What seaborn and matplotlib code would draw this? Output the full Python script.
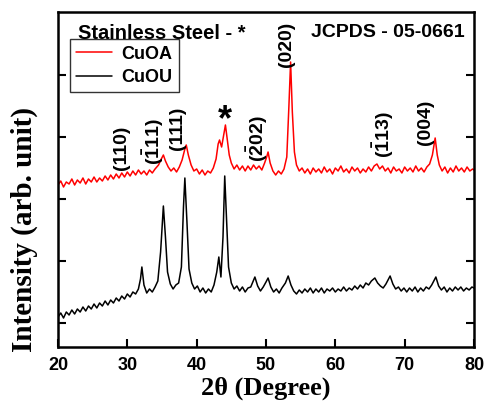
import numpy as np
import seaborn as sns
import matplotlib
matplotlib.use("Agg")
import matplotlib.pyplot as plt

# CuOA (annealed) pattern
cuoa_2theta = [20.0, 20.4, 20.8, 21.2, 21.6, 22.0, 22.4, 22.8, 23.2, 23.6, 24.0, 24.4, 24.8, 25.2,
               25.6, 26.0, 26.4, 26.8, 27.2, 27.6, 28.0, 28.4, 28.8, 29.2, 29.6, 30.0, 30.4, 30.8,
               31.2, 31.6, 32.0, 32.4, 32.8, 33.2, 33.6, 34.0, 34.5, 34.9, 35.2, 35.5, 35.9, 36.3,
               36.7, 37.1, 37.5, 37.9, 38.3, 38.5, 38.8, 39.2, 39.6, 40.0, 40.4, 40.8, 41.2, 41.6,
               42.0, 42.4, 42.8, 43.1, 43.3, 43.6, 43.9, 44.15, 44.4, 44.7, 45.0, 45.4, 45.8, 46.2,
               46.6, 47.0, 47.4, 47.8, 48.2, 48.6, 49.0, 49.4, 49.8, 50.1, 50.3, 50.6, 51.0, 51.4,
               51.8, 52.2, 52.6, 53.0, 53.3, 53.55, 53.8, 54.1, 54.4, 54.8, 55.2, 55.6, 56.0, 56.4,
               56.8, 57.2, 57.6, 58.0, 58.4, 58.8, 59.2, 59.6, 60.0, 60.4, 60.8, 61.2, 61.6, 62.0,
               62.4, 62.8, 63.2, 63.6, 64.0, 64.4, 64.8, 65.2, 65.6, 66.0, 66.4, 66.8, 67.2, 67.6,
               68.0, 68.4, 68.8, 69.2, 69.6, 70.0, 70.4, 70.8, 71.2, 71.6, 72.0, 72.4, 72.8, 73.2,
               73.6, 74.0, 74.4, 74.7, 75.0, 75.4, 75.8, 76.2, 76.6, 77.0, 77.4, 77.8, 78.2, 78.6,
               79.0, 79.4, 79.8, 80.0]
cuoa_counts = [162, 166, 160, 165, 163, 168, 162, 167, 164, 169, 163, 168, 165, 170,
               165, 169, 166, 171, 167, 172, 168, 173, 169, 174, 170, 175, 171, 176,
               172, 177, 173, 176, 172, 177, 174, 178, 182, 188, 192, 186, 180, 176,
               179, 175, 180, 187, 198, 202, 192, 182, 176, 178, 173, 177, 172, 176,
               174, 179, 188, 203, 207, 200, 212, 222, 208, 192, 184, 178, 182, 177,
               181, 176, 181, 177, 182, 178, 181, 177, 184, 190, 195, 184, 176, 172,
               176, 173, 178, 190, 240, 285, 235, 195, 182, 176, 179, 174, 178, 173,
               179, 175, 178, 174, 180, 175, 178, 173, 179, 176, 181, 175, 178, 174,
               180, 176, 179, 174, 178, 175, 180, 176, 181, 183, 178, 181, 176, 179,
               174, 180, 176, 178, 174, 180, 176, 179, 175, 181, 176, 179, 175, 180,
               183, 192, 209, 192, 182, 176, 180, 174, 179, 175, 181, 176, 179, 175,
               180, 176, 178, 177]

# CuOU (unannealed) pattern
cuou_2theta = [20.0, 20.4, 20.8, 21.2, 21.6, 22.0, 22.4, 22.8, 23.2, 23.6, 24.0, 24.4, 24.8, 25.2,
               25.6, 26.0, 26.4, 26.8, 27.2, 27.6, 28.0, 28.4, 28.8, 29.2, 29.6, 30.0, 30.4, 30.8,
               31.2, 31.6, 31.9, 32.1, 32.4, 32.8, 33.2, 33.6, 34.0, 34.4, 34.8, 35.2, 35.5, 35.8,
               36.2, 36.6, 37.0, 37.4, 37.8, 38.1, 38.3, 38.6, 38.9, 39.3, 39.7, 40.1, 40.5, 40.9,
               41.3, 41.7, 42.1, 42.5, 42.9, 43.2, 43.5, 43.8, 44.05, 44.3, 44.6, 45.0, 45.4, 45.8,
               46.2, 46.6, 47.0, 47.4, 47.8, 48.4, 48.8, 49.2, 49.6, 50.0, 50.3, 50.7, 51.1, 51.5,
               51.9, 52.3, 52.8, 53.2, 53.6, 54.0, 54.4, 54.8, 55.2, 55.6, 56.0, 56.4, 56.8, 57.2,
               57.6, 58.0, 58.4, 58.8, 59.2, 59.6, 60.0, 60.4, 60.8, 61.2, 61.6, 62.0, 62.4, 62.8,
               63.2, 63.6, 64.0, 64.4, 64.8, 65.2, 65.7, 66.1, 66.5, 66.9, 67.3, 67.9, 68.3, 68.7,
               69.1, 69.5, 69.9, 70.3, 70.7, 71.1, 71.5, 71.9, 72.3, 72.7, 73.1, 73.5, 73.9, 74.5,
               74.9, 75.3, 75.7, 76.1, 76.5, 76.9, 77.3, 77.7, 78.1, 78.5, 78.9, 79.3, 79.7, 80.0]
cuou_counts = [30, 34, 29, 35, 32, 37, 33, 38, 35, 40, 36, 41, 38, 43,
               39, 44, 41, 46, 42, 47, 44, 49, 46, 51, 48, 53, 50, 55,
               53, 58, 68, 80, 62, 54, 58, 55, 60, 66, 95, 141, 110, 75,
               63, 58, 62, 64, 80, 140, 169, 125, 78, 64, 58, 61, 55, 59,
               54, 58, 55, 62, 75, 90, 70, 110, 171, 130, 80, 64, 58, 61,
               56, 60, 55, 59, 60, 70, 61, 56, 60, 65, 69, 60, 55, 58,
               54, 59, 64, 71, 62, 56, 53, 57, 54, 58, 55, 59, 54, 58,
               55, 59, 54, 58, 56, 59, 55, 58, 56, 60, 56, 59, 57, 61,
               58, 62, 59, 64, 62, 66, 69, 64, 61, 59, 63, 71, 63, 58,
               60, 56, 59, 55, 59, 56, 60, 55, 59, 56, 60, 58, 62, 70,
               61, 57, 60, 55, 59, 56, 60, 57, 60, 56, 59, 57, 60, 59]

# (hkl) labels: text, 2theta position, bottom of text
hkl_labels = ["(110)", r"$\mathbf{(\bar{1}11)}$", "(111)", r"$\mathbf{(\bar{2}02)}$",
              "(020)", r"$\mathbf{(\bar{1}13)}$", "(004)"]
hkl_pos = [29.2, 33.7, 37.2, 48.7, 53.0, 66.9, 73.0]
hkl_base = [177, 182, 197, 185, 280, 189, 202]

sns.set_style("ticks")
plt.rcParams["font.family"] = ["Liberation Sans", "DejaVu Sans"]
plt.rcParams["font.weight"] = "bold"
plt.rcParams["mathtext.fontset"] = "custom"
plt.rcParams["mathtext.rm"] = "Liberation Sans:bold"
plt.rcParams["mathtext.bf"] = "Liberation Sans:bold"
for key in ["text.color", "axes.labelcolor", "xtick.color", "ytick.color", "axes.edgecolor"]:
    plt.rcParams[key] = "black"

fig = plt.figure(figsize=(4.86, 4.05), dpi=100)
ax = fig.add_axes([0.1193, 0.1432, 0.856, 0.8272])

sns.lineplot(x=cuoa_2theta, y=cuoa_counts, color="red", lw=1.1, label="CuOA", ax=ax, sort=False)
sns.lineplot(x=cuou_2theta, y=cuou_counts, color="black", lw=1.1, label="CuOU", ax=ax, sort=False)

ax.set_xlim(20, 80)
ax.set_ylim(0, 335)
ax.set_xticks(range(20, 81, 10))
ax.set_xticklabels([str(v) for v in range(20, 81, 10)], fontsize=13, fontweight="bold")
ax.set_yticks([24, 86, 148, 210, 272])
ax.set_yticklabels([])
ax.tick_params(axis="x", direction="in", length=6, width=1.5, pad=7)
ax.tick_params(axis="y", direction="in", length=6, width=1.5, right=True)
for s in ax.spines.values():
    s.set_linewidth(1.8)

ax.set_xlabel("2θ (Degree)", family="Liberation Serif", fontsize=19, fontweight="bold",
              labelpad=2)
ax.set_ylabel("Intensity (arb. unit)", family="Liberation Serif", fontsize=21,
              fontweight="bold", va="center")
ax.yaxis.set_label_coords(-0.082, 0.352)

for txt, x, y in zip(hkl_labels, hkl_pos, hkl_base):
    ax.text(x, y, txt, rotation=90, ha="center", va="bottom", fontsize=14, fontweight="bold")
ax.text(44.1, 226, "*", ha="center", va="center", fontsize=26, fontweight="bold")

ax.text(0.048, 0.965, "Stainless Steel - *", transform=ax.transAxes, ha="left", va="top",
        fontsize=14.5, fontweight="bold")
ax.text(0.978, 0.965, "JCPDS - 05-0661", transform=ax.transAxes, ha="right", va="top",
        fontsize=14, fontweight="bold")

leg = ax.legend(loc="upper left", bbox_to_anchor=(0.029, 0.918), fontsize=13,
                frameon=True, fancybox=False, handlelength=2.0, borderpad=0.35,
                labelspacing=0.35, handletextpad=0.5, borderaxespad=0)
leg.get_frame().set_edgecolor("black")
leg.get_frame().set_linewidth(1)
for t in leg.get_texts():
    t.set_fontweight("bold")

fig.savefig("out.png", dpi=100)
